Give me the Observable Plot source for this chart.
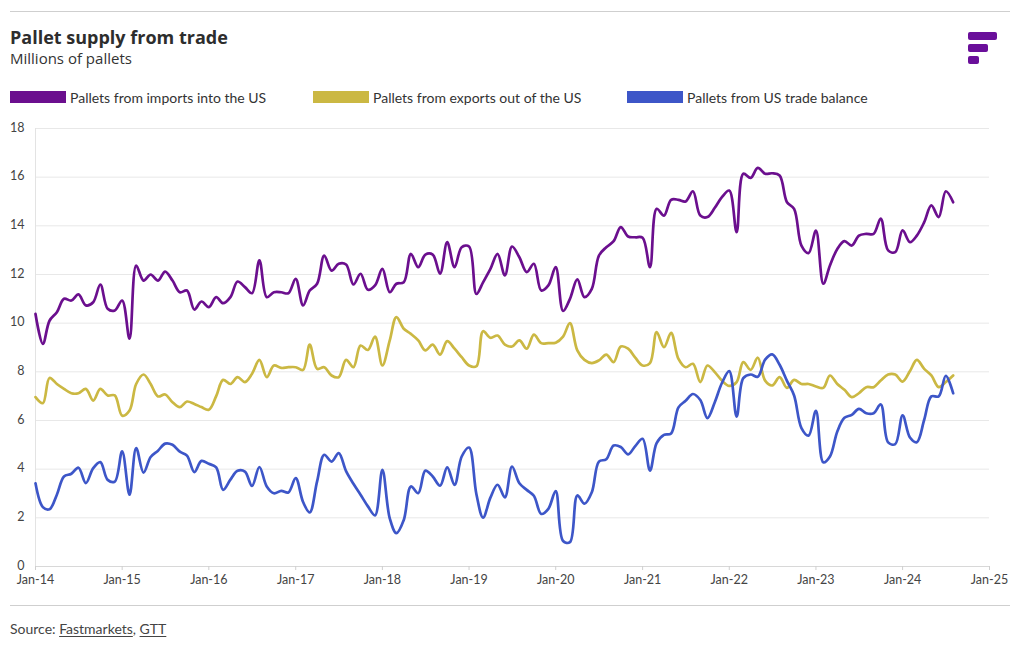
<!DOCTYPE html>
<html><head><meta charset="utf-8">
<script src="https://cdn.jsdelivr.net/npm/d3@7"></script>
<script src="https://cdn.jsdelivr.net/npm/@observablehq/plot@0.6"></script>
<style>
body{margin:0;background:#fff;font-family:Lato,"Open Sans",sans-serif;color:#333;}
#wrap{position:relative;width:1020px;height:650px;overflow:hidden;}
.rule{position:absolute;left:10px;width:1000px;height:0;border-top:1.5px solid #cfcfcf;}
#title{position:absolute;left:10px;top:25px;font-family:"Open Sans",sans-serif;font-size:18px;font-weight:700;color:#2d2d2d;line-height:24px;}
#subtitle{position:absolute;left:10px;top:48px;font-family:"Open Sans",sans-serif;font-size:15px;color:#333;line-height:20px;}
.leg{position:absolute;top:89px;height:16px;display:flex;align-items:center;font-size:14px;color:#333;}
.sw{width:56px;height:12px;margin-right:4px;}
#chart{position:absolute;left:0;top:110px;}
#source{position:absolute;left:10px;top:620px;font-size:14px;color:#444;}
#source u{text-underline-offset:2px;}
#logo{position:absolute;left:960px;top:25px;}
</style></head><body>
<div id="wrap">
  <div class="rule" style="top:11px"></div>
  <div id="title">Pallet supply from trade</div>
  <div id="subtitle">Millions of pallets</div>
  <svg id="logo" width="45" height="45"><rect x="8" y="7" width="29" height="8" rx="2" fill="#6a0f9a"/><rect x="8" y="19" width="20" height="8" rx="2" fill="#6a0f9a"/><rect x="8" y="31" width="11" height="8" rx="2" fill="#6a0f9a"/></svg>
  <div id="legend"></div>
  <div id="chart"></div>
  <div class="rule" style="top:605px"></div>
  <div id="source">Source: <u>Fastmarkets</u>, <u>GTT</u></div>
</div>
<script>
const seriesNames = ["Pallets from imports into the US", "Pallets from exports out of the US", "Pallets from US trade balance"];
const seriesColors = ["#6b0f8e", "#cbb843", "#3d56c8"];
const startYear = 2014;
const yTicks = [0, 2, 4, 6, 8, 10, 12, 14, 16, 18];
const tickYears = [2014, 2015, 2016, 2017, 2018, 2019, 2020, 2021, 2022, 2023, 2024, 2025];

const imports = [
10.38, 9.15, 10.1, 10.45, 11.0, 10.93, 11.18, 10.73, 10.86, 11.59, 10.59, 10.52,
10.93, 9.36, 12.37, 11.75, 12.0, 11.75, 12.12, 11.75, 11.27, 11.34, 10.56, 10.89,
10.66, 11.07, 10.82, 11.07, 11.71, 11.48, 11.23, 12.58, 11.07, 11.27, 11.27, 11.23,
11.82, 10.73, 11.34, 11.62, 12.78, 12.16, 12.44, 12.41, 11.59, 12.03, 11.37, 11.55,
12.23, 11.27, 11.62, 11.68, 12.85, 12.3, 12.82, 12.82, 12.03, 13.33, 12.3, 13.12,
13.15, 11.2, 11.68, 12.23, 12.85, 11.96, 13.15, 12.71, 12.1, 12.44, 11.34, 11.55,
12.3, 10.5, 11.0, 11.8, 11.07, 11.41, 12.78, 13.12, 13.37, 13.95, 13.56, 13.53,
13.51, 12.3, 14.7, 14.42, 15.07, 15.07, 15.0, 15.42, 14.42, 14.36, 14.74, 15.18,
15.45, 13.74, 16.14, 15.97, 16.38, 16.14, 16.16, 16.07, 14.97, 14.7, 13.19, 12.88,
13.8, 11.62, 12.37, 13.05, 13.37, 13.19, 13.6, 13.67, 13.67, 14.3, 12.99, 12.92,
13.81, 13.33, 13.6, 14.15, 14.84, 14.36, 15.42, 14.97
];
const exports = [
6.96, 6.71, 7.75, 7.5, 7.3, 7.12, 7.12, 7.3, 6.82, 7.3, 7.03, 7.03,
6.2, 6.41, 7.5, 7.89, 7.5, 6.99, 7.07, 6.75, 6.55, 6.78, 6.68, 6.55,
6.44, 7.0, 7.67, 7.5, 7.78, 7.58, 7.92, 8.49, 7.78, 8.26, 8.16, 8.19,
8.19, 8.08, 9.12, 8.12, 8.19, 7.85, 7.78, 8.49, 8.19, 9.08, 8.9, 9.45,
8.26, 9.29, 10.25, 9.77, 9.56, 9.29, 8.88, 9.12, 8.71, 9.26, 8.95, 8.6,
8.26, 8.23, 9.67, 9.4, 9.49, 9.12, 9.04, 9.29, 8.95, 9.53, 9.18, 9.18,
9.2, 9.45, 10.0, 8.88, 8.49, 8.36, 8.47, 8.71, 8.4, 9.04, 8.95, 8.58,
8.26, 8.36, 9.63, 9.01, 9.6, 8.53, 8.19, 8.33, 7.58, 8.26, 7.99, 7.64,
7.42, 7.58, 8.4, 8.08, 8.58, 7.64, 7.44, 7.78, 7.34, 7.67, 7.5, 7.5,
7.4, 7.34, 7.85, 7.5, 7.26, 6.96, 7.12, 7.37, 7.37, 7.64, 7.89, 7.89,
7.6, 8.03, 8.49, 8.12, 7.85, 7.37, 7.58, 7.85
];
const balance = [
3.42, 2.44, 2.35, 2.95, 3.7, 3.81, 4.06, 3.43, 4.04, 4.29, 3.56, 3.49,
4.73, 2.95, 4.87, 3.86, 4.5, 4.76, 5.05, 5.0, 4.72, 4.56, 3.88, 4.34,
4.22, 4.07, 3.15, 3.57, 3.93, 3.9, 3.31, 4.09, 3.29, 3.01, 3.11, 3.04,
3.63, 2.65, 2.22, 3.5, 4.59, 4.31, 4.66, 3.92, 3.4, 2.95, 2.47, 2.1,
3.97, 1.98, 1.37, 1.91, 3.29, 3.01, 3.94, 3.7, 3.32, 4.07, 3.35, 4.52,
4.89, 2.97, 2.01, 2.83, 3.36, 2.84, 4.11, 3.42, 3.15, 2.91, 2.16, 2.37,
3.1, 1.05, 1.0, 2.92, 2.58, 3.05, 4.31, 4.41, 4.97, 4.91, 4.61, 4.95,
5.25, 3.94, 5.07, 5.41, 5.47, 6.54, 6.81, 7.09, 6.84, 6.1, 6.75, 7.54,
8.03, 6.16, 7.74, 7.89, 7.8, 8.5, 8.72, 8.29, 7.63, 7.03, 5.69, 5.38,
6.4, 4.28, 4.52, 5.55, 6.11, 6.23, 6.48, 6.3, 6.3, 6.66, 5.1, 5.03,
6.21, 5.3, 5.11, 6.03, 6.99, 6.99, 7.84, 7.12
];

const allSeries = [imports, exports, balance];
const rows = [];
allSeries.forEach((vals, s) => vals.forEach((v, i) => rows.push({date: new Date(Date.UTC(startYear, i, 1)), value: v, series: seriesNames[s]})));

// legend
const legend = document.getElementById("legend");
const legX = [10, 313, 627];
seriesNames.forEach((n, i) => {
  const d = document.createElement("div");
  d.className = "leg";
  d.style.left = legX[i] + "px";
  d.innerHTML = `<div class="sw" style="background:${seriesColors[i]}"></div><span>${n}</span>`;
  legend.appendChild(d);
});

const xTicks = tickYears.map(y => new Date(Date.UTC(y, 0, 1)));
const chart = Plot.plot({
  width: 1020, height: 490,
  marginTop: 18, marginBottom: 34, marginLeft: 35, marginRight: 31,
  style: {fontFamily: "Lato, 'Open Sans', sans-serif", background: "transparent"},
  x: {type: "utc", domain: [xTicks[0], xTicks[xTicks.length - 1]]},
  y: {domain: [0, 18]},
  color: {domain: seriesNames, range: seriesColors},
  marks: [
    Plot.gridY(yTicks, {stroke: "#e8e8e8", strokeOpacity: 1}),
    Plot.ruleX([xTicks[0]], {stroke: "#e3e3e3"}),
    Plot.ruleY([0], {stroke: "#d8d8d8"}),
    Plot.axisY(yTicks, {label: null, tickSize: 0, tickPadding: 11, fontSize: 12.5, fill: "#444", dy: -1}),
    Plot.axisX(xTicks, {label: null, tickSize: 4, tickPadding: 5, fontSize: 12.5, stroke: "#cfcfcf", fill: "#444",
      tickFormat: d => "Jan-" + String(d.getUTCFullYear()).slice(2)}),
    Plot.line(rows, {x: "date", y: "value", z: "series", stroke: "series", strokeWidth: 2.7, curve: "catmull-rom"})
  ]
});
document.getElementById("chart").appendChild(chart);
</script>
</body></html>
